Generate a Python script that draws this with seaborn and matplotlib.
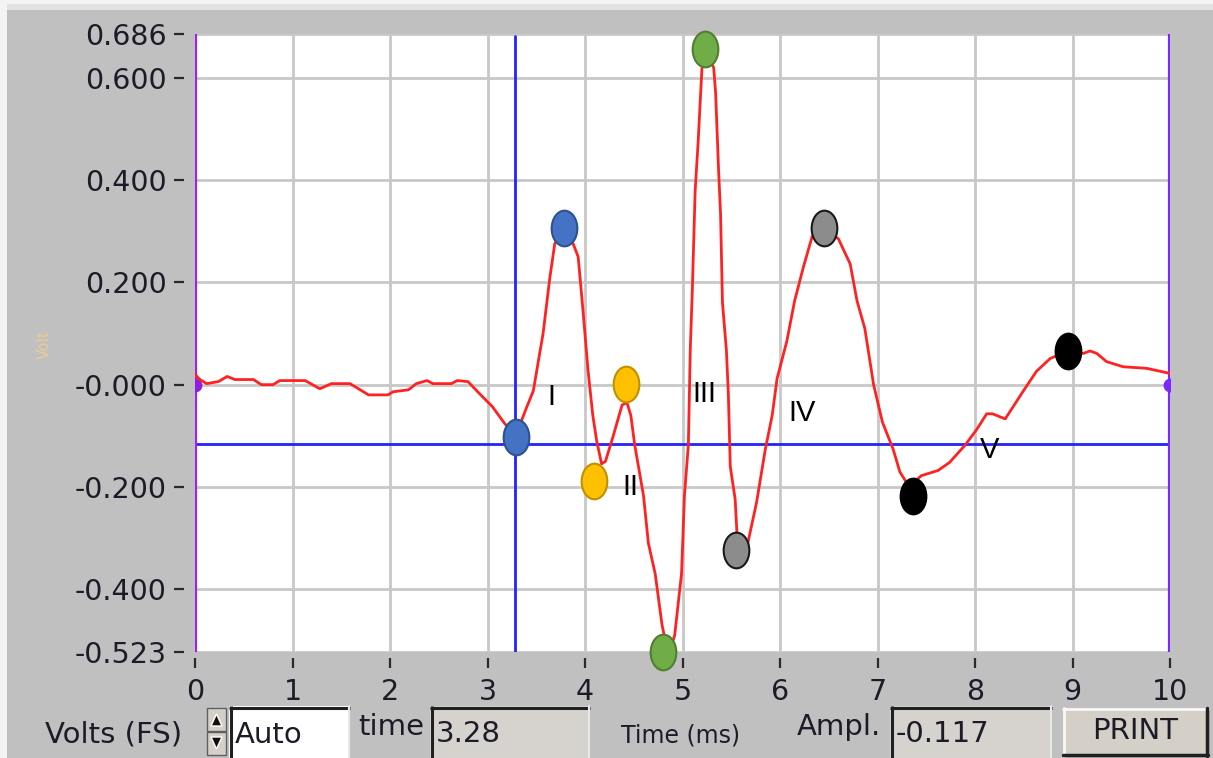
import numpy as np
import pandas as pd
import matplotlib
matplotlib.use("Agg")
import matplotlib.pyplot as plt
import seaborn as sns
from matplotlib.path import Path
from matplotlib.transforms import Affine2D
from matplotlib.patches import Rectangle, Polygon

# ---------------- data ----------------
time_ms = [0.00, 0.05, 0.12, 0.24, 0.33, 0.41, 0.60, 0.68, 0.80, 0.87,
           1.13, 1.28, 1.40, 1.59, 1.78, 1.98, 2.03, 2.19, 2.27, 2.38,
           2.44, 2.63, 2.69, 2.80, 2.92, 3.05, 3.18, 3.27, 3.32, 3.40,
           3.47, 3.57, 3.64, 3.69, 3.75, 3.82, 3.88, 3.93, 3.98, 4.03,
           4.08, 4.12, 4.17, 4.21, 4.29, 4.38, 4.43, 4.47, 4.51, 4.60,
           4.65, 4.72, 4.79, 4.84, 4.88, 4.92, 4.99, 5.02, 5.06, 5.08,
           5.10, 5.13, 5.16, 5.18, 5.20, 5.26, 5.32, 5.34, 5.37, 5.39,
           5.41, 5.45, 5.47, 5.49, 5.54, 5.56, 5.59, 5.67, 5.76, 5.85,
           5.92, 5.97, 6.07, 6.15, 6.24, 6.33, 6.42, 6.50, 6.60, 6.72,
           6.79, 6.87, 6.96, 7.05, 7.16, 7.23, 7.31, 7.38, 7.45, 7.62,
           7.74, 7.90, 8.02, 8.12, 8.18, 8.31, 8.49, 8.63, 8.77, 8.90,
           9.00, 9.11, 9.18, 9.25, 9.35, 9.52, 9.76, 10.00]
volts = [0.020, 0.010, 0.002, 0.006, 0.016, 0.010, 0.010, 0.000, 0.000, 0.008,
         0.008, -0.008, 0.002, 0.002, -0.020, -0.020, -0.014, -0.010, 0.002, 0.008,
         0.002, 0.002, 0.008, 0.006, -0.018, -0.043, -0.077, -0.095, -0.085, -0.045,
         -0.012, 0.100, 0.210, 0.276, 0.290, 0.290, 0.275, 0.250, 0.144, 0.030,
         -0.060, -0.110, -0.155, -0.150, -0.100, -0.040, -0.035, -0.060, -0.118, -0.217,
         -0.310, -0.370, -0.470, -0.515, -0.515, -0.490, -0.370, -0.217, -0.118, 0.070,
         0.180, 0.380, 0.473, 0.548, 0.620, 0.645, 0.620, 0.570, 0.420, 0.336,
         0.160, 0.068, -0.016, -0.160, -0.224, -0.296, -0.310, -0.310, -0.230, -0.126,
         -0.060, 0.012, 0.085, 0.164, 0.230, 0.290, 0.300, 0.300, 0.285, 0.236,
         0.164, 0.110, 0.000, -0.073, -0.126, -0.171, -0.195, -0.190, -0.178, -0.168,
         -0.152, -0.118, -0.087, -0.057, -0.057, -0.067, -0.014, 0.026, 0.051, 0.062,
         0.065, 0.061, 0.066, 0.061, 0.045, 0.035, 0.032, 0.022]

marker_t = [3.29, 3.78, 4.09, 4.42, 5.23, 4.80, 5.55, 6.45, 7.36, 8.95]
marker_v = [-0.102, 0.307, -0.188, 0.002, 0.656, -0.523, -0.323, 0.307, -0.217, 0.065]
marker_wave = ["I", "I", "II", "II", "III", "III", "IV", "IV", "V", "V"]

wave_names = ["I", "II", "III", "IV", "V"]
wave_face = ["#4472C4", "#FFC000", "#70AD47", "#8C8C8C", "#000000"]
wave_edge = ["#2F528F", "#BF9000", "#507E32", "#1a1a1a", "#000000"]
label_t = [3.66, 4.47, 5.22, 6.23, 8.15]
label_v = [-0.025, -0.200, -0.018, -0.055, -0.127]

ytick_vals = [0.686, 0.600, 0.400, 0.200, 0.000, -0.200, -0.400, -0.523]
ytick_text = ["0.686", "0.600", "0.400", "0.200", "-0.000", "-0.200", "-0.400", "-0.523"]
xtick_vals = list(range(0, 11))
x_range = (0, 10)
y_range = (-0.523, 0.686)

cursor_time = 3.28
cursor_ampl = -0.117
volts_fs = "Auto"

# ---------------- figure ----------------
sns.set_theme(style="white")
plt.rcParams['font.family'] = ['DejaVu Sans']

W, H = 1213, 758
fig = plt.figure(figsize=(W / 100, H / 100), dpi=100, facecolor="#f4f4f4")

# background overlay in pixel coordinates
ov = fig.add_axes([0, 0, 1, 1], zorder=0)
ov.set_xlim(0, W)
ov.set_ylim(H, 0)
ov.axis("off")
ov.add_patch(Rectangle((7, 4), W, H, facecolor="#e2e2e2", edgecolor="none"))
ov.add_patch(Rectangle((7, 10), W, H, facecolor="#c0c0c0", edgecolor="none"))

ax = fig.add_axes([195 / W, 1 - 652 / H, (1170 - 195) / W, (652 - 34) / H], zorder=2)
ax.set_facecolor("white")

df = pd.DataFrame({"t": time_ms, "v": volts})
sns.lineplot(data=df, x="t", y="v", ax=ax, color="#ff2222", linewidth=2.0,
             sort=False, estimator=None, zorder=4)

# cursors
ax.axvline(cursor_time, color="#2323ff", linewidth=2.0, zorder=3, ymax=0.997)
ax.axhline(cursor_ampl, color="#2323ff", linewidth=2.0, zorder=3)

# plot edges (purple)
ax.axvline(x_range[0], color="#a020f0", linewidth=3.0, zorder=3)
ax.axvline(x_range[1], color="#7a28ff", linewidth=3.0, zorder=3)
ax.plot([x_range[0]], [0], marker="o", markersize=9, color="#9020e0", zorder=3)
ax.plot([x_range[1]], [0], marker="o", markersize=9, color="#7a28ff", zorder=3)

# ellipse markers
ell = Path.unit_circle().transformed(Affine2D().scale(0.72, 1.0))
mdf = pd.DataFrame({"t": marker_t, "v": marker_v, "wave": marker_wave})
for name, fc, ec in zip(wave_names, wave_face, wave_edge):
    sub = mdf[mdf["wave"] == name]
    sns.scatterplot(data=sub, x="t", y="v", ax=ax, marker=ell, s=660,
                    color=fc, edgecolor=ec, linewidth=1.5, zorder=6,
                    clip_on=False, legend=False)

for name, tx, vy in zip(wave_names, label_t, label_v):
    ax.text(tx, vy, name, fontsize=21, family="Liberation Sans", color="black",
            ha="center", va="center", zorder=7)

ax.set_xlim(*x_range)
ax.set_ylim(*y_range)
ax.set_xticks(xtick_vals)
ax.set_xticklabels([str(v) for v in xtick_vals])
ax.set_yticks(ytick_vals)
ax.set_yticklabels(ytick_text)
ax.grid(True, color="#c8c8c8", linewidth=2.0)
ax.set_axisbelow(True)
for s in ax.spines.values():
    s.set_visible(False)
ax.spines["left"].set_position(("outward", 8))
ax.spines["bottom"].set_position(("outward", 4))
ax.tick_params(axis="y", length=7.5, width=1.6, color="#2a2a2a", pad=5,
               labelsize=20.5, labelcolor="#1c1c28", left=True, direction="out")
ax.tick_params(axis="x", length=7.5, width=1.6, color="#2a2a2a", pad=7,
               labelsize=20.5, labelcolor="#1c1c28", bottom=True, direction="out")
ax.set_xlabel("")
ax.set_ylabel("")

# faint y-axis name
ov.text(44, 345, "Volt", rotation=90, fontsize=11, color="#f0c890",
        ha="center", va="center")

# ---------------- bottom controls ----------------
txt_kw = dict(fontsize=21, color="#1c1c28", va="center")


def sunken_box(x0, y0, x1, y1, fill):
    ov.add_patch(Rectangle((x0, y0), x1 - x0, y1 - y0, facecolor=fill, edgecolor="none"))
    ov.plot([x0, x1], [y0 + 1.5, y0 + 1.5], color="#202020", linewidth=2.2, solid_capstyle="butt")
    ov.plot([x0 + 1.5, x0 + 1.5], [y0, y1], color="#202020", linewidth=2.2, solid_capstyle="butt")
    ov.plot([x1 - 1, x1 - 1], [y0, y1], color="#e8e8e8", linewidth=1.5)


ov.text(45, 735, "Volts (FS)", ha="left", **txt_kw)

# spinner
ov.add_patch(Rectangle((207, 708), 19, 23, facecolor="#d4d0c8", edgecolor="#606060", linewidth=1))
ov.add_patch(Rectangle((207, 732), 19, 23, facecolor="#d4d0c8", edgecolor="#606060", linewidth=1))
ov.add_patch(Polygon([[211, 726], [222, 726], [216.5, 714]], closed=True, facecolor="#101010"))
ov.add_patch(Polygon([[211, 737], [222, 737], [216.5, 749]], closed=True, facecolor="#101010"))

sunken_box(229, 706, 350, 758, "white")
ov.text(235, 735, volts_fs, ha="left", **txt_kw)

ov.text(358, 727, "time", ha="left", **txt_kw)
sunken_box(430, 706, 590, 758, "#d6d3ce")
ov.text(436, 734, f"{cursor_time:.2f}", ha="left", **txt_kw)

ov.text(681, 735, "Time (ms)", ha="center", fontsize=17, color="#1c1c28", va="center")

ov.text(797, 727, "Ampl.", ha="left", **txt_kw)
sunken_box(890, 706, 1052, 758, "#d6d3ce")
ov.text(896, 734, f"{cursor_ampl:.3f}", ha="left", **txt_kw)

# PRINT button (raised)
ov.add_patch(Rectangle((1063, 708), 145, 48, facecolor="#d4d0c8", edgecolor="none"))
ov.plot([1063, 1208], [709, 709], color="#f8f8f8", linewidth=2)
ov.plot([1064, 1064], [708, 756], color="#f8f8f8", linewidth=2)
ov.plot([1063, 1208], [755, 755], color="#202020", linewidth=2.5)
ov.plot([1207, 1207], [708, 756], color="#202020", linewidth=2.5)
ov.text(1135, 731, "PRINT", ha="center", **txt_kw)

fig.savefig("out.png", dpi=100, facecolor=fig.get_facecolor())
